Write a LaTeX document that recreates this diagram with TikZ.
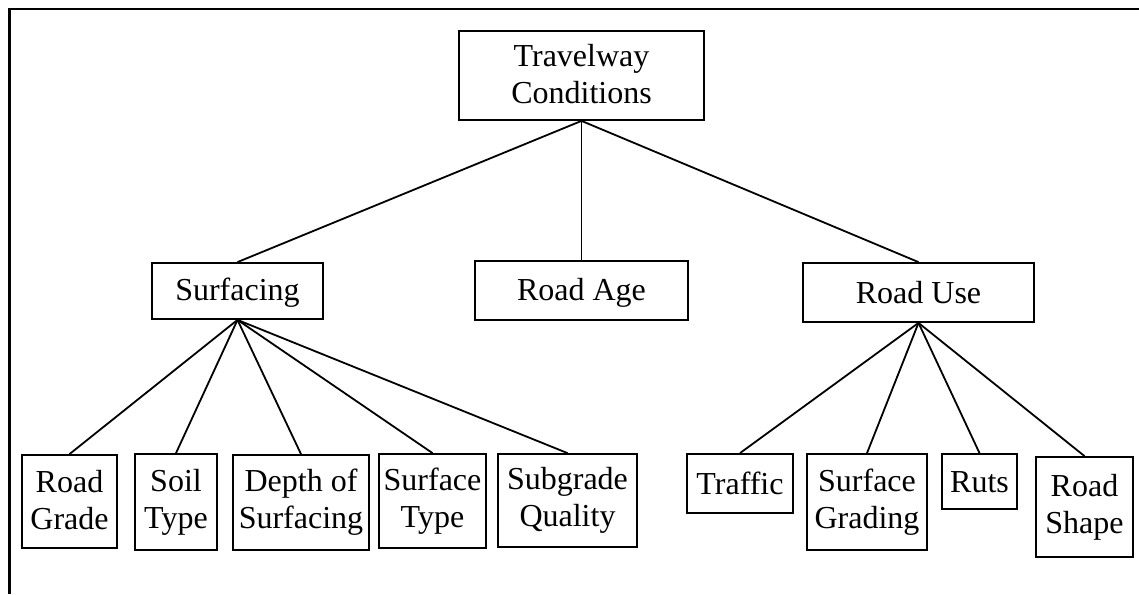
\documentclass[tikz,border=0pt]{standalone}
\usepackage{fontspec}
\setmainfont{Liberation Serif}
\newcommand\boxstrut{\rule[-4pt]{0pt}{30pt}}
\begin{document}
\begin{tikzpicture}[x=1pt,y=-1pt,
  box/.style={draw, line width=1.8pt, inner sep=0pt, align=center,
    font=\fontsize{32}{37}\selectfont,
    execute at begin node=\boxstrut, execute at end node=\boxstrut},
  link/.style={line width=1.8pt},
  frame/.style={line width=2.5pt}]
\useasboundingbox (0,0) rectangle (1139,594);

% open frame: top and left edges only
\draw[frame] (9.3,594) -- (9.3,9) -- (1139,9);

% root
\node[box, minimum width=245pt, minimum height=89pt] (tc) at (581.5,75.5) {Travelway\\Conditions};

% second level
\node[box, minimum width=171pt, minimum height=56pt] (surf) at (237.5,291) {Surfacing};
\node[box, minimum width=213pt, minimum height=59pt] (age)  at (581.5,290.5) {Road Age};
\node[box, minimum width=231pt, minimum height=59pt] (use)  at (918.5,292.5) {Road Use};

% surfacing factors
\node[box, minimum width=95pt,  minimum height=93pt] (grade) at (69.5,501.5) {Road\\Grade};
\node[box, minimum width=82pt,  minimum height=96pt] (soil)  at (176,502) {Soil\\Type};
\node[box, minimum width=136pt, minimum height=95pt] (depth) at (301,502.5) {Depth of\\Surfacing};
\node[box, minimum width=107pt, minimum height=94pt] (stype) at (432.5,501) {Surface\\Type};
\node[box, minimum width=139pt, minimum height=93pt] (subq)  at (567.5,500.5) {Subgrade\\Quality};

% road use factors
\node[box, minimum width=106pt, minimum height=59pt]  (traf)  at (740,483.5) {Traffic};
\node[box, minimum width=120pt, minimum height=96pt]  (sgrad) at (867,502) {Surface\\Grading};
\node[box, minimum width=75pt,  minimum height=55pt]  (ruts)  at (979.5,481.5) {Ruts};
\node[box, minimum width=97pt,  minimum height=100pt] (shape) at (1084.5,507) {Road\\Shape};

% connectors
\foreach \c in {surf,age,use} \draw[link] (tc.south) -- (\c.north);
\foreach \c in {grade,soil,depth,stype,subq} \draw[link] (surf.south) -- (\c.north);
\foreach \c in {traf,sgrad,ruts,shape} \draw[link] (use.south) -- (\c.north);
\end{tikzpicture}
\end{document}
